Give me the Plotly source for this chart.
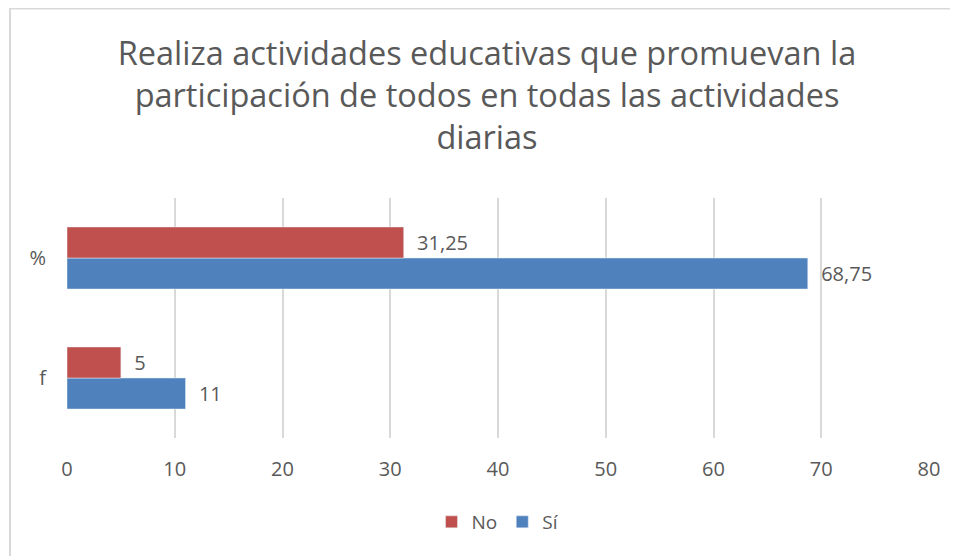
import plotly.graph_objects as go

# Data
categories = ['f', '%']
si_values = [11, 68.75]
no_values = [5, 31.25]

title_text = ('Realiza actividades educativas que promuevan la<br>'
              'participación de todos en todas las actividades<br>'
              'diarias')

grey = '#595959'
font_name = 'Open Sans'


def fmt(v):
    # comma decimal, small gap before the label like Excel
    return '\u00a0\u00a0' + ('%g' % v).replace('.', ',')


fig = go.Figure()

fig.add_trace(go.Bar(
    y=categories, x=si_values, name='Sí', orientation='h',
    marker=dict(color='#4F81BD'),
    text=[fmt(v) for v in si_values], textposition='outside',
    textfont=dict(color=grey, size=20, family=font_name),
    cliponaxis=False))

fig.add_trace(go.Bar(
    y=categories, x=no_values, name='No', orientation='h',
    marker=dict(color='#C0504D'),
    text=[fmt(v) for v in no_values], textposition='outside',
    textfont=dict(color=grey, size=20, family=font_name),
    cliponaxis=False))

# page body has an 8px margin, so everything is placed 8px up/left
fig.update_layout(
    width=958, height=556,
    margin=dict(l=59, r=37, t=190, b=126),
    paper_bgcolor='white', plot_bgcolor='white',
    barmode='group', bargap=0.483, bargroupgap=0,
    font=dict(family=font_name, color=grey),
    title=dict(text=title_text, x=0.5, xanchor='center', y=0.898, yanchor='top',
               font=dict(size=32.5, color=grey, family=font_name)),
    legend=dict(orientation='h', x=0.5, xanchor='center', y=-0.35, yanchor='middle',
                traceorder='reversed', font=dict(size=19, color=grey)),
    xaxis=dict(range=[0, 80], dtick=10, showgrid=True, gridcolor='#d9d9d9', gridwidth=2,
               zeroline=False, showline=False, ticklabelstandoff=17,
               tickfont=dict(size=20, color=grey)),
    yaxis=dict(range=[-0.5, 1.5], showgrid=False, zeroline=False, showline=False,
               ticklabelstandoff=20, tickfont=dict(size=20, color=grey)),
    shapes=[dict(type='rect', xref='paper', yref='paper',
                 x0=(2 - 59) / 862, x1=1.2, y0=-1, y1=(430 - 0.5) / 240,
                 line=dict(color='#d9d9d9', width=2), layer='below')],
)

fig.write_html('out.html')
